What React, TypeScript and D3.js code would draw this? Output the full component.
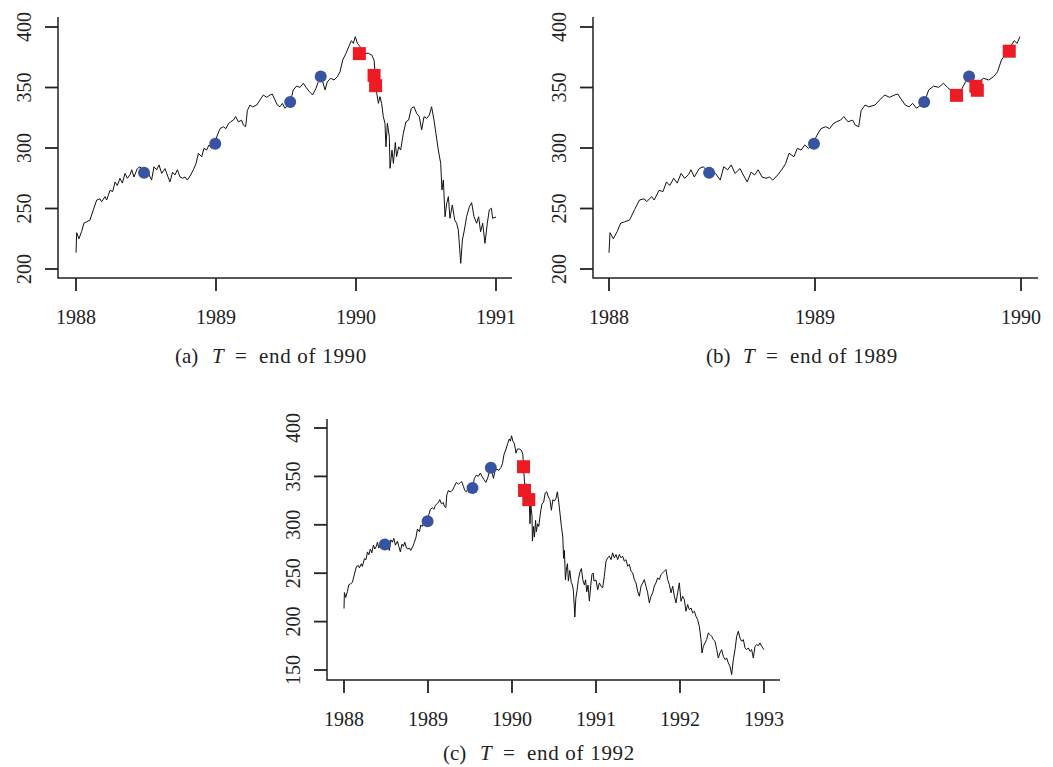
import React, { useEffect, useRef } from 'react';
import * as d3 from 'd3';

// index level: decimal year and value
const dates = [
  // 1988
  1988.0, 1988.005, 1988.021, 1988.04, 1988.057, 1988.076, 1988.1, 1988.124, 1988.148, 1988.171,
  1988.183, 1988.207, 1988.219, 1988.243, 1988.262, 1988.279, 1988.295, 1988.314, 1988.331, 1988.35,
  1988.367, 1988.386, 1988.398, 1988.414, 1988.438, 1988.457, 1988.486, 1988.517, 1988.54, 1988.557,
  1988.576, 1988.593, 1988.612, 1988.636, 1988.652, 1988.671, 1988.69, 1988.707, 1988.724, 1988.743,
  1988.762, 1988.779, 1988.795, 1988.819, 1988.838, 1988.857, 1988.874, 1988.898, 1988.914, 1988.933,
  1988.95, 1988.969, 1988.988,
  // 1989
  1989.01, 1989.029, 1989.052, 1989.071, 1989.088, 1989.105, 1989.124,
  1989.14, 1989.16, 1989.183, 1989.195, 1989.212, 1989.224, 1989.243, 1989.262, 1989.291,
  1989.314, 1989.338, 1989.362, 1989.386, 1989.402, 1989.421, 1989.438, 1989.457, 1989.474, 1989.493,
  1989.512, 1989.529, 1989.552, 1989.576, 1989.6, 1989.624, 1989.643, 1989.667, 1989.69, 1989.714,
  1989.731, 1989.755, 1989.779, 1989.795, 1989.819, 1989.843, 1989.867, 1989.886, 1989.905, 1989.929,
  1989.948, 1989.967, 1989.981, 1989.995,
  // 1990
  1990.01, 1990.029, 1990.048, 1990.064, 1990.088, 1990.112,
  1990.129, 1990.138, 1990.148, 1990.16, 1990.171, 1990.183, 1990.195, 1990.207, 1990.214, 1990.224,
  1990.238, 1990.243, 1990.257, 1990.267, 1990.281, 1990.29, 1990.305, 1990.319, 1990.338, 1990.357,
  1990.376, 1990.395, 1990.414, 1990.433, 1990.452, 1990.469, 1990.486, 1990.505, 1990.524, 1990.54,
  1990.557, 1990.571, 1990.588, 1990.605, 1990.614, 1990.624, 1990.636, 1990.648, 1990.66, 1990.671,
  1990.688, 1990.705, 1990.719, 1990.731, 1990.748, 1990.76, 1990.774, 1990.79, 1990.81, 1990.826,
  1990.843, 1990.862, 1990.876, 1990.89, 1990.905, 1990.921, 1990.938, 1990.952, 1990.967, 1990.976,
  // 1991
  1991.0, 1991.02, 1991.04, 1991.06, 1991.079, 1991.099, 1991.119, 1991.139, 1991.159, 1991.179,
  1991.198, 1991.218, 1991.238, 1991.258, 1991.278, 1991.298, 1991.317, 1991.337, 1991.357, 1991.377,
  1991.397, 1991.417, 1991.437, 1991.456, 1991.476, 1991.496, 1991.516, 1991.536, 1991.556, 1991.575,
  1991.595, 1991.615, 1991.635, 1991.655, 1991.675, 1991.694, 1991.714, 1991.734, 1991.754, 1991.774,
  1991.794, 1991.813, 1991.833, 1991.853, 1991.873, 1991.893, 1991.913, 1991.933, 1991.952, 1991.972,
  1991.992,
  // 1992
  1992.012, 1992.032, 1992.052, 1992.071, 1992.091, 1992.111, 1992.131, 1992.151, 1992.171,
  1992.19, 1992.21, 1992.23, 1992.25, 1992.262, 1992.278, 1992.298, 1992.317, 1992.337, 1992.357,
  1992.377, 1992.397, 1992.417, 1992.437, 1992.456, 1992.476, 1992.496, 1992.516, 1992.536, 1992.556,
  1992.575, 1992.595, 1992.615, 1992.635, 1992.655, 1992.675, 1992.694, 1992.714, 1992.734, 1992.754,
  1992.774, 1992.794, 1992.813, 1992.833, 1992.853, 1992.873, 1992.893, 1992.913, 1992.933, 1992.952,
  1992.972, 1993.0,
];
const values = [
  // 1988
  213.5, 230, 225, 231, 238, 239, 240.5, 249, 257, 258,
  255.6, 259.8, 257, 265, 264, 272, 269, 275, 271, 279,
  275, 278, 282, 276, 283, 284.5, 280, 279, 273.5, 284.5,
  282, 286, 279, 283, 277.7, 272, 280, 277.7, 282, 276,
  275, 276, 273.5, 277.7, 282, 287, 295.6, 292.8, 299.7, 298.3,
  302.5, 299.7, 303,
  // 1989
  310.7, 316, 317.6, 316, 320, 321.7, 323,
  326, 321.7, 323, 319, 317.6, 331, 335.5, 334, 335.5,
  339.7, 343.8, 341.9, 343.8, 344.6, 339.7, 335.5, 334.1, 336.9, 332.8,
  335.5, 336.9, 348, 351.2, 350.1, 353.5, 350.1, 346.6, 343.8, 349.3,
  354.8, 357.6, 348, 354.8, 357.6, 356.2, 359, 363, 372.7, 378.3,
  383.7, 388.7, 386.5, 392,
  // 1990
  386.5, 383.7, 374, 378.3, 378.3, 376.9,
  372.7, 359, 345.2, 336.9, 342.4, 336.9, 325.9, 320.4, 301, 320.4,
  309.3, 283.2, 298.3, 287.3, 304.6, 292.8, 301, 298.3, 312.1, 321.7,
  323.1, 332.8, 334.1, 328.7, 325.9, 315, 325.9, 324.5, 327.3, 334.1,
  323.1, 312.1, 298.3, 287.3, 265.3, 273.6, 243.2, 254.3, 259.8, 241.9,
  252.9, 240.5, 237.8, 232.2, 204.7, 224, 232.2, 243.2, 251.5, 254.8,
  243.2, 237.8, 243.2, 230.8, 237.8, 221.2, 237.8, 248.8, 250.2, 241.9,
  // 1991
  243, 233, 240, 236.6, 234.8, 246.9, 262.4, 265.9, 267.6, 264,
  271, 265.9, 269.3, 264, 269.3, 265.9, 267.6, 262.4, 264, 257.2,
  259, 252, 250.3, 243.4, 240, 231.4, 226.2, 236.6, 240, 243.4,
  236.6, 229.7, 219.3, 226.2, 229.7, 236.6, 240, 245.2, 243.4, 248.6,
  250.3, 252, 253.8, 243.4, 238.3, 229.7, 236.6, 226.2, 219.3, 229.7,
  240,
  // 1992
  221, 226.2, 222.8, 210.7, 217.6, 212.4, 214.1, 209, 210.7,
  205.5, 202, 195.2, 181.4, 167.6, 174.5, 177.9, 181.4, 188.3, 186.6,
  184.8, 181.4, 179.7, 171, 162.4, 167.6, 171, 164.1, 160.7, 162.4,
  157.2, 153.8, 145.2, 160.7, 171, 184.8, 190, 183.1, 179.7, 181.4,
  172.8, 171, 172.8, 169.3, 171, 162.4, 174.5, 176.2, 175.2, 177.9,
  174.5, 171,
];

// blue circles (same in all three panels)
const circleDates = [1988.486, 1988.995, 1989.53, 1989.748];
const circleValues = [279.6, 303.6, 338, 359];

// red squares per panel
const squareDatesA = [1990.024, 1990.129, 1990.14];
const squareValuesA = [378, 360, 351.5];
const squareDatesB = [1989.687, 1989.781, 1989.788, 1989.943];
const squareValuesB = [343.5, 351, 347.7, 380];
const squareDatesC = [1990.137, 1990.149, 1990.2];
const squareValuesC = [360, 335.5, 326];

const yTicksAB = [200, 250, 300, 350, 400];
const yTicksC = [150, 200, 250, 300, 350, 400];
const xTicksA = [1988, 1989, 1990, 1991];
const xTicksB = [1988, 1989, 1990];
const xTicksC = [1988, 1989, 1990, 1991, 1992, 1993];

const FONT = '"Liberation Serif", "DejaVu Serif", serif';

const App = () => {
  const ref = useRef(null);

  useEffect(() => {
    const svg = d3.select(ref.current);
    svg.selectAll('*').remove();

    const series = dates.map((d, i) => ({ t: d, v: values[i] }));

    const drawPanel = (p) => {
      const x = d3.scaleLinear().domain(p.xDomain).range(p.xRange);
      const y = d3.scaleLinear().domain(p.yDomain).range(p.yRange);
      const g = svg.append('g');

      // axis lines (L-shaped box)
      g.append('path')
        .attr('d', `M${p.left},${p.top}V${p.bottom}H${p.right}`)
        .attr('fill', 'none')
        .attr('stroke', '#222')
        .attr('stroke-width', 1.5);

      // y ticks
      g.selectAll('.yt')
        .data(p.yTicks)
        .enter().append('line')
        .attr('x1', p.left).attr('x2', p.left - 13)
        .attr('y1', d => y(d)).attr('y2', d => y(d))
        .attr('stroke', '#222').attr('stroke-width', 1.8);
      g.selectAll('.yl')
        .data(p.yTicks)
        .enter().append('text')
        .attr('transform', d => `translate(${p.left - 34},${y(d)}) rotate(-90)`)
        .attr('text-anchor', 'middle')
        .attr('dy', '0.35em')
        .style('font-family', FONT)
        .style('font-size', '20px')
        .attr('fill', '#222')
        .text(d => d);

      // x ticks
      g.selectAll('.xt')
        .data(p.xTicks)
        .enter().append('line')
        .attr('x1', d => x(d)).attr('x2', d => x(d))
        .attr('y1', p.bottom).attr('y2', p.bottom + 13)
        .attr('stroke', '#222').attr('stroke-width', 1.8);
      g.selectAll('.xl')
        .data(p.xTicks)
        .enter().append('text')
        .attr('x', d => x(d))
        .attr('y', p.bottom + 39)
        .attr('dy', '0.35em')
        .attr('text-anchor', 'middle')
        .style('font-family', FONT)
        .style('font-size', '20px')
        .attr('fill', '#222')
        .text(d => d);

      // the index line
      const line = d3.line().x(d => x(d.t)).y(d => y(d.v));
      g.append('path')
        .datum(series.filter(d => d.t <= p.xDomain[1] + 1e-6))
        .attr('d', line)
        .attr('fill', 'none')
        .attr('stroke', '#111')
        .attr('stroke-width', 1);

      // markers
      g.selectAll('.dot')
        .data(circleDates.map((d, i) => [d, circleValues[i]]))
        .enter().append('circle')
        .attr('cx', d => x(d[0]))
        .attr('cy', d => y(d[1]))
        .attr('r', 6)
        .attr('fill', '#3953a4');
      g.selectAll('.sq')
        .data(p.sqDates.map((d, i) => [d, p.sqValues[i]]))
        .enter().append('rect')
        .attr('x', d => x(d[0]) - 6.5)
        .attr('y', d => y(d[1]) - 6.5)
        .attr('width', 13)
        .attr('height', 13)
        .attr('fill', '#ed1c24');

      // caption: (x)  T = end of YYYY
      const cap = g.append('text')
        .attr('y', p.capY)
        .attr('dy', '0.35em')
        .style('font-family', FONT)
        .style('font-size', '21px')
        .attr('fill', '#222');
      cap.append('tspan').attr('x', p.capX - 97).text(`(${p.letter})`);
      cap.append('tspan').attr('x', p.capX - 60).style('font-style', 'italic').text('T');
      cap.append('tspan').attr('x', p.capX - 37).text('=');
      cap.append('tspan').attr('x', p.capX - 13).style('letter-spacing', '0.7px')
        .text(`end of ${p.endYear}`);
    };

    drawPanel({
      left: 58, right: 512, top: 17, bottom: 278,
      xDomain: [1988, 1991], xRange: [76, 496],
      yDomain: [200, 400], yRange: [269, 27],
      yTicks: yTicksAB, xTicks: xTicksA,
      sqDates: squareDatesA, sqValues: squareValuesA,
      capX: 272, capY: 356, letter: 'a', endYear: 1990,
    });
    drawPanel({
      left: 593, right: 1038, top: 17, bottom: 278,
      xDomain: [1988, 1990], xRange: [609, 1021],
      yDomain: [200, 400], yRange: [269, 27],
      yTicks: yTicksAB, xTicks: xTicksB,
      sqDates: squareDatesB, sqValues: squareValuesB,
      capX: 803, capY: 356, letter: 'b', endYear: 1989,
    });
    drawPanel({
      left: 327, right: 780, top: 419, bottom: 680,
      xDomain: [1988, 1993], xRange: [344, 764],
      yDomain: [150, 400], yRange: [670, 428],
      yTicks: yTicksC, xTicks: xTicksC,
      sqDates: squareDatesC, sqValues: squareValuesC,
      capX: 540, capY: 753, letter: 'c', endYear: 1992,
    });
  }, []);

  return (
    <svg
      ref={ref}
      width={1053}
      height={767}
      style={{ position: 'absolute', left: 0, top: 0, background: '#fff' }}
    />
  );
};

export default App;
